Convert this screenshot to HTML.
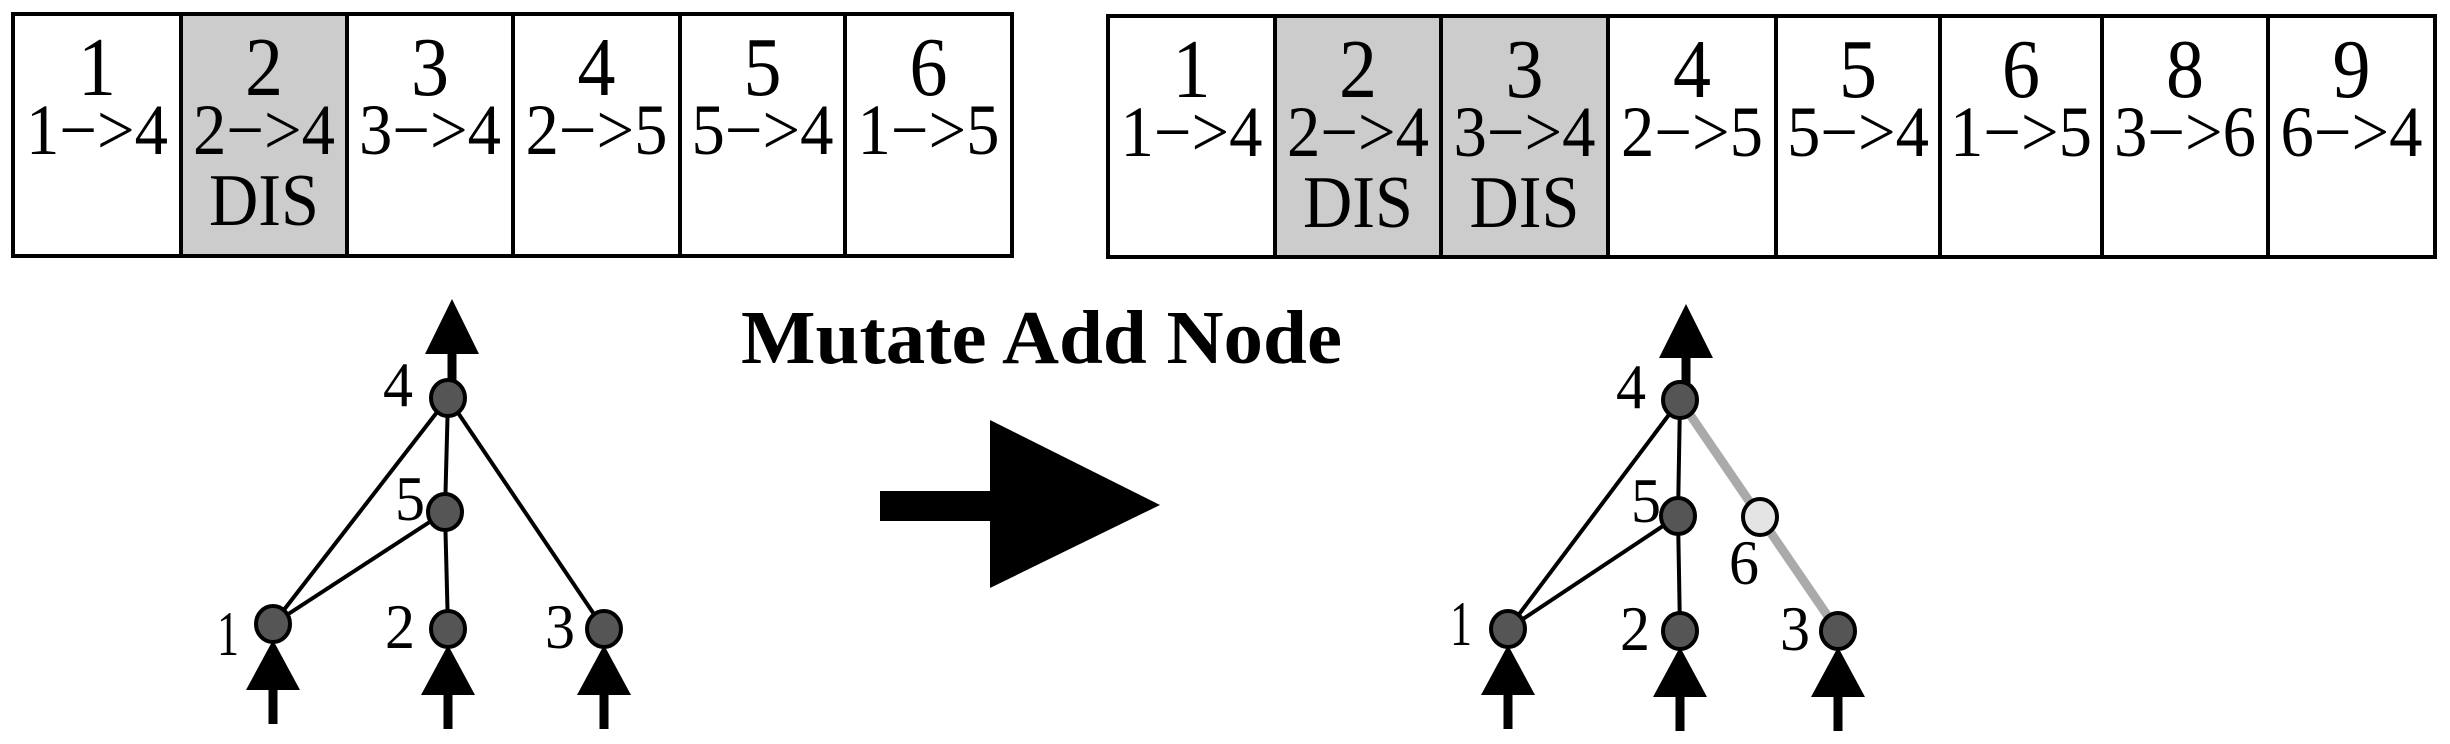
<!DOCTYPE html>
<html><head><meta charset="utf-8"><style>
html,body{margin:0;padding:0;background:#fff;width:2450px;height:744px;overflow:hidden}
svg text{font-family:"Liberation Serif","DejaVu Serif",serif;fill:#000}
</style></head><body>
<svg id="fig" width="2450" height="744" viewBox="0 0 2450 744" xmlns="http://www.w3.org/2000/svg" font-family="Liberation Serif, serif">
<g id="genomeL"></g>
<g id="genomeR"></g>
<text x="741" y="363" font-size="76" font-weight="bold" textLength="601" lengthAdjust="spacingAndGlyphs">Mutate Add Node</text>
<g>
<rect x="880" y="491" width="112" height="30" fill="#000"/>
<polygon points="990,420 1160,505 990,588" fill="#000"/>
</g>
<g id="netL"></g>
<g id="netR"></g>
</svg>
<script>
const NS='http://www.w3.org/2000/svg';
// genome data
const leftInnov=['1','2','3','4','5','6'];
const leftConn=['1−>4','2−>4','3−>4','2−>5','5−>4','1−>5'];
const leftDis=[false,true,false,false,false,false];
const rightInnov=['1','2','3','4','5','6','8','9'];
const rightConn=['1−>4','2−>4','3−>4','2−>5','5−>4','1−>5','3−>6','6−>4'];
const rightDis=[false,true,true,false,false,false,false,false];

function mk(tag,attrs,parent){const e=document.createElementNS(NS,tag);for(const k in attrs)e.setAttribute(k,attrs[k]);parent.appendChild(e);return e;}

function genome(g,edges,top,bot,innov,conn,dis){
  for(let i=0;i<innov.length;i++){
    const x0=edges[i],x1=edges[i+1],cx=(x0+x1)/2;
    const r=mk('rect',{x:x0,y:top,width:x1-x0,height:bot-top,fill:dis[i]?'#cccccc':'#fff',stroke:'#000','stroke-width':4},g);
    
    
    const t1=mk('text',{x:cx,y:top+81,'font-size':84,'text-anchor':'middle',textLength:38,lengthAdjust:'spacingAndGlyphs'},g);t1.textContent=innov[i];
    
    
    const t2=mk('text',{x:cx,y:top+140,'font-size':72,'text-anchor':'middle',textLength:Math.min(142,x1-x0-8),lengthAdjust:'spacingAndGlyphs'},g);t2.textContent=conn[i];
    
    
    if(dis[i]){const t3=mk('text',{x:cx,y:top+211,'font-size':74,'text-anchor':'middle',textLength:110,lengthAdjust:'spacingAndGlyphs'},g);t3.textContent='DIS';
      
      }
  }
}
genome(document.getElementById('genomeL'),[13,181,347,513,680,845,1012],14,256,leftInnov,leftConn,leftDis);
genome(document.getElementById('genomeR'),[1108,1275,1441,1608,1776,1940,2102,2268,2435],16,257,rightInnov,rightConn,rightDis);

function arrowUp(g,cx,tipY,baseY,endY,hw){
  mk('rect',{x:cx-4.5,y:Math.min(baseY,endY)-2,width:9,height:Math.abs(endY-baseY)+4,fill:'#000'},g);
  mk('polygon',{points:`${cx},${tipY} ${cx-hw},${baseY} ${cx+hw},${baseY}`,fill:'#000'},g);
}
function net(g,nodes,edges,grayEdges,labels,outArrow,inputs){
  arrowUp(g,outArrow.x,outArrow.tip,outArrow.base,outArrow.end,27);
  inputs.forEach(k=>{const n=nodes[k];arrowUp(g,n.x,n.y+16,n.y+66,n.y+98,27);});
  grayEdges.forEach(([a,b])=>mk('line',{x1:nodes[a].x,y1:nodes[a].y,x2:nodes[b].x,y2:nodes[b].y,stroke:'#aaaaaa','stroke-width':9},g));
  edges.forEach(([a,b])=>mk('line',{x1:nodes[a].x,y1:nodes[a].y,x2:nodes[b].x,y2:nodes[b].y,stroke:'#000','stroke-width':4},g));
  for(const k in nodes){const n=nodes[k];
    const c=mk('ellipse',{cx:n.x,cy:n.y,rx:17,ry:18,fill:n.light?'#e4e4e4':'#555555',stroke:'#000','stroke-width':4},g);
    
    }
  labels.forEach(l=>{const t=mk('text',{x:l.x,y:l.y,'font-size':64,textLength:l.t==='1'?22:30,lengthAdjust:'spacingAndGlyphs'},g);t.textContent=l.t;
    
    });
}
net(document.getElementById('netL'),
 {4:{x:448,y:398},5:{x:445,y:512},1:{x:273,y:624},2:{x:448,y:629},3:{x:604,y:629}},
 [[4,1],[4,5],[5,1],[5,2],[4,3]],[],
 [{t:'4',x:383,y:406},{t:'5',x:395,y:520},{t:'1',x:217,y:655},{t:'2',x:385,y:648},{t:'3',x:545,y:648}],
 {x:452,tip:299,base:354,end:384},[1,2,3]);
net(document.getElementById('netR'),
 {4:{x:1680,y:400},5:{x:1678,y:516},6:{x:1760,y:517,light:true},1:{x:1508,y:629},2:{x:1680,y:631},3:{x:1838,y:631}},
 [[4,1],[4,5],[5,1],[5,2]],[[4,6],[6,3]],
 [{t:'4',x:1616,y:408},{t:'5',x:1631,y:522},{t:'6',x:1729,y:584},{t:'1',x:1450,y:645},{t:'2',x:1620,y:650},{t:'3',x:1780,y:650}],
 {x:1686,tip:304,base:358,end:384},[1,2,3]);
</script>
</body></html>
